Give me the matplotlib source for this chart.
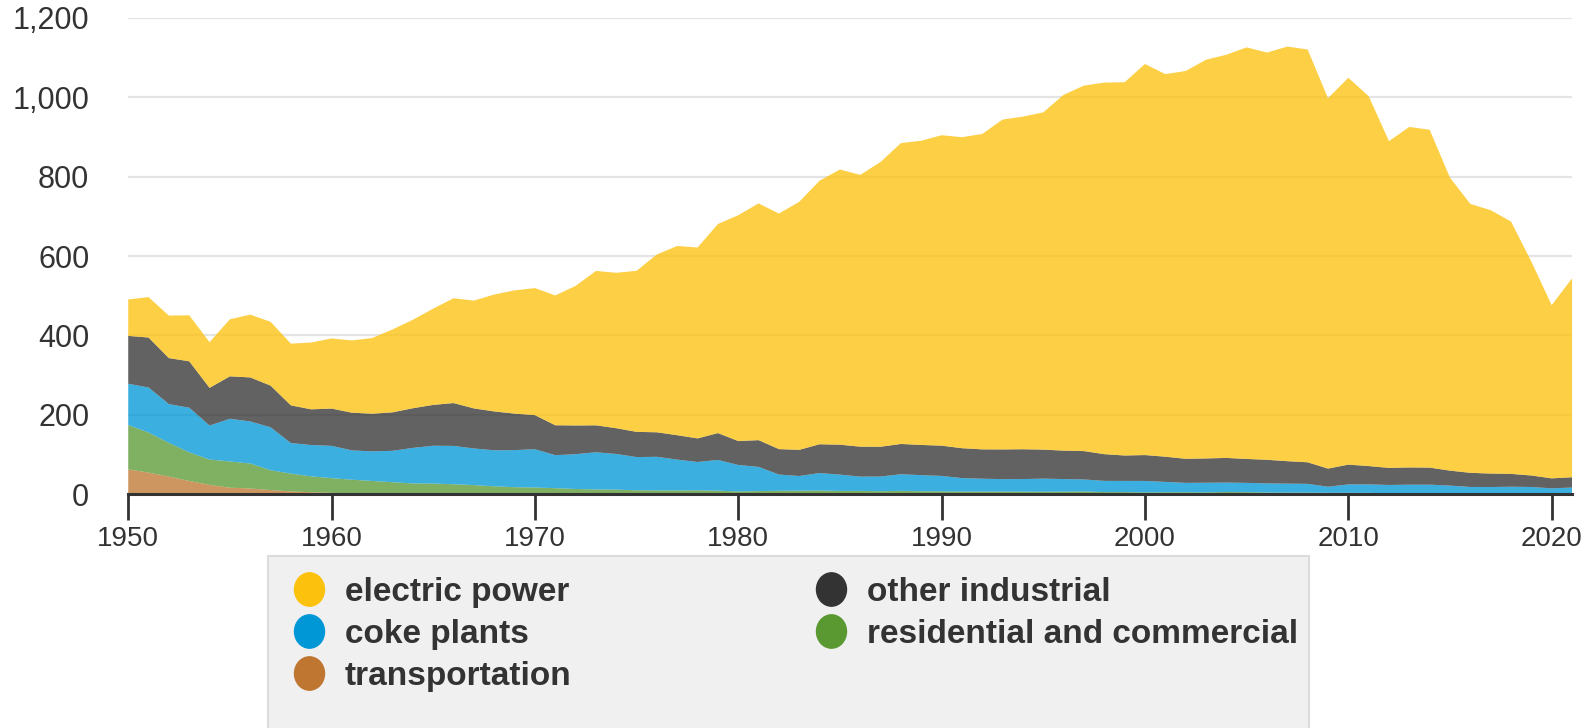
import numpy as np
import matplotlib
matplotlib.use('Agg')
import matplotlib.pyplot as plt
from matplotlib.lines import Line2D
from matplotlib.patches import Rectangle
from matplotlib.path import Path
from matplotlib.ticker import FuncFormatter

# US coal consumption by sector, million short tons, 1950-2021
years = np.arange(1950, 2022)

transportation = [
    62, 54, 44, 33, 23, 16, 14, 10, 6.5, 4.5,
    3.0, 1.1, 0.9, 0.8, 0.7, 0.7, 0.6, 0.5, 0.4, 0.3,
    0.3, 0.2, 0.2, 0.1, 0.1, 0.1, 0.1, 0.1, 0, 0,
    0, 0, 0, 0, 0, 0, 0, 0, 0, 0,
    0, 0, 0, 0, 0, 0, 0, 0, 0, 0,
    0, 0, 0, 0, 0, 0, 0, 0, 0, 0,
    0, 0, 0, 0, 0, 0, 0, 0, 0, 0,
    0, 0,
]
res_comm = [
    112, 101, 85, 72, 64, 66, 63, 50, 45, 40,
    37, 35, 32, 29, 26, 25.7, 24, 22, 19, 17,
    16.1, 14.5, 12.5, 11.5, 11.0, 9.4, 9.0, 8.9, 9.3, 8.5,
    6.5, 7.4, 8.2, 8.4, 8.8, 7.8, 7.9, 7.0, 8.0, 7.0,
    6.7, 6.2, 6.2, 6.2, 6.0, 5.8, 6.0, 6.5, 4.9, 4.9,
    4.1, 4.4, 4.4, 4.2, 5.1, 4.7, 3.8, 3.5, 3.5, 3.1,
    3.1, 2.9, 2.0, 2.1, 2.1, 1.6, 1.3, 1.2, 1.1, 1.0,
    0.8, 0.8,
]
coke = [
    104.0, 113.5, 97.6, 112.6, 85.6, 107.7, 105.9, 108.3, 76.9, 79.0,
    81.4, 73.9, 74.6, 79.1, 89.6, 95.3, 96.7, 92.3, 90.8, 93.4,
    96.5, 83.2, 87.7, 93.6, 89.9, 83.6, 84.7, 77.7, 71.4, 77.4,
    66.7, 61.0, 40.9, 37.0, 44.0, 41.1, 35.9, 37.0, 41.9, 40.5,
    38.9, 33.9, 32.4, 31.3, 31.7, 33.0, 31.7, 30.2, 28.2, 28.1,
    28.9, 26.1, 23.7, 24.2, 23.7, 23.4, 23.0, 22.7, 22.1, 15.3,
    21.1, 21.4, 20.8, 21.5, 21.5, 19.6, 16.5, 16.4, 17.3, 16.7,
    13.5, 15.5,
]
other_industrial = [
    120.6, 126, 116, 117, 95, 107, 111, 105, 95, 90,
    94, 95, 95, 97, 100, 103, 108, 101, 98, 92,
    86, 75.4, 72.4, 68.0, 64.9, 63.6, 61.8, 61.5, 59.5, 67.7,
    60.3, 67.4, 64.1, 66.0, 72.7, 75.4, 75.6, 75.2, 76.3, 76.2,
    76.3, 75.4, 74.0, 74.9, 75.2, 73.1, 71.7, 71.5, 67.4, 64.1,
    65.2, 63.6, 60.7, 61.3, 62.2, 60.3, 59.5, 56.6, 54.4, 45.7,
    49.9, 46.2, 43.1, 43.4, 43.0, 37.8, 35.6, 34.0, 32.4, 29.0,
    25.2, 26.0,
]
electric_power = [
    91.9, 101.9, 107.1, 115.9, 115.2, 143.8, 158.3, 160.8, 155.7, 168.4,
    176.7, 182.2, 190.8, 209.0, 223.0, 242.7, 264.2, 271.8, 294.7, 310.6,
    320.2, 327.3, 351.8, 389.2, 391.8, 406.0, 448.4, 477.1, 481.2, 527.1,
    569.3, 596.8, 593.7, 625.2, 664.4, 693.8, 685.1, 717.9, 758.4, 766.9,
    782.6, 783.9, 795.1, 831.6, 838.4, 850.2, 896.9, 921.4, 936.6, 940.9,
    985.8, 964.4, 977.5, 1005.1, 1016.3, 1037.5, 1026.6, 1045.1, 1040.6, 933.6,
    975.1, 932.5, 823.6, 858.4, 851.6, 738.4, 677.9, 663.9, 636.2, 539.4,
    436.5, 501.3,
]

c_yellow = '#fcc10c'
c_blue = '#0097d7'
c_dark = '#333333'
c_green = '#5a9832'
c_brown = '#bf7630'

plt.rcParams['font.family'] = 'Liberation Sans'

fig = plt.figure(figsize=(15.85, 7.28), dpi=100)
ax = fig.add_axes([0.0809, 0.3214, 0.9109, 0.6539])

ax.stackplot(years, transportation, res_comm, coke, other_industrial, electric_power,
             colors=[c_brown, c_green, c_blue, c_dark, c_yellow],
             alpha=0.77, linewidth=0)

ax.set_xlim(1950, 2021)
ax.set_ylim(0, 1200)
ax.set_yticks(range(0, 1201, 200))
ax.yaxis.set_major_formatter(FuncFormatter(lambda v, p: f'{v:,.0f}'))
ax.set_xticks(range(1950, 2021, 10))

ax.grid(axis='y', color='#e4e4e4', linewidth=1.6)
ax.set_axisbelow(True)
for s in ['top', 'right', 'left']:
    ax.spines[s].set_visible(False)
ax.spines['bottom'].set_color('#333333')
ax.spines['bottom'].set_linewidth(2.2)
ax.tick_params(axis='y', length=0, pad=28, labelsize=22, labelcolor='#333333')
ax.tick_params(axis='x', length=19, width=2, color='#333333', pad=4,
               labelsize=20, labelcolor='#333333')

# legend panel
box_top = (728 - 556) / 728
fig.add_artist(Rectangle((268 / 1585, -0.01), 1041 / 1585, box_top + 0.01,
                         transform=fig.transFigure, facecolor='#f0f0f0',
                         edgecolor='#dcdcdc', linewidth=1.5))

circ = Path.unit_circle()
oval = Path(circ.vertices * np.array([0.9, 1.0]), circ.codes)

def handle(c):
    return Line2D([], [], linestyle='none', marker=oval, markersize=24,
                  markerfacecolor=c, markeredgecolor=c)

handles = [handle(c_yellow), handle(c_blue), handle(c_brown),
           handle(c_dark), handle(c_green)]
labels = ['electric power', 'coke plants', 'transportation',
          'other industrial', 'residential and commercial']

fig.legend(handles, labels, ncol=2, loc='upper left',
           bbox_to_anchor=(0.1842, 0.2080), frameon=False,
           prop={'weight': 'bold', 'size': 24}, labelcolor='#333333',
           handlelength=1.0, handletextpad=0.58, columnspacing=7.3,
           labelspacing=0.33, borderpad=0, borderaxespad=0)

fig.savefig('out.png', dpi=100)
